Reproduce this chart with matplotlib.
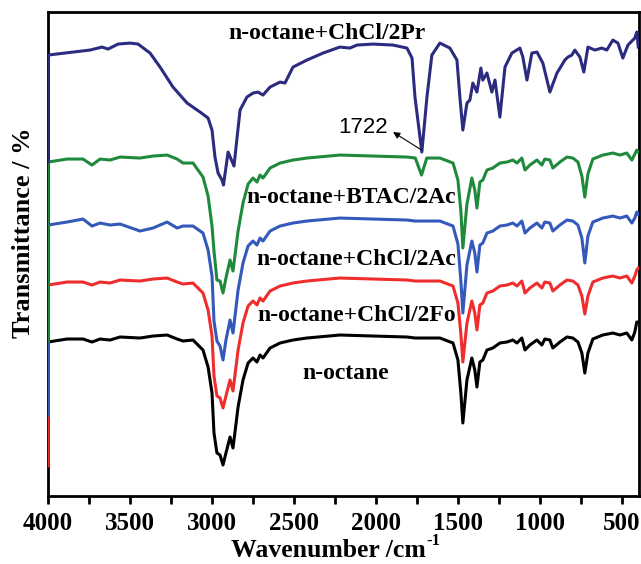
import matplotlib
matplotlib.use("Agg")
from matplotlib import pyplot as plt
from matplotlib.ticker import MultipleLocator

# FTIR spectra, arbitrary transmittance units (already stacked)
# each trace starts with a short vertical drop at 4000 cm-1 (visible on the left axis)

# top spectrum: n-octane + ChCl/2Pr
wn_pr = [4000, 4000, 3847, 3744, 3671, 3634, 3573, 3500, 3451, 3378, 3317, 3238, 3152, 3073,
         3024, 3000, 2982, 2963, 2939, 2930, 2902, 2866, 2829, 2787, 2750, 2720, 2689,
         2646, 2585, 2555, 2506, 2421, 2323, 2220, 2159, 2116, 2018, 1896, 1811, 1780,
         1762, 1720, 1689, 1659, 1610, 1549, 1506, 1488, 1470, 1445, 1427, 1409, 1384,
         1360, 1348, 1323, 1293, 1274, 1244, 1213, 1171, 1122, 1104, 1079, 1049, 1018,
         982, 939, 896, 866, 848, 829, 805, 787, 756, 732, 707, 665, 622, 592, 555, 524,
         494, 463, 421, 409, 400]
t_pr = [334, 441, 444, 446, 449, 447, 452, 453, 452, 443, 429, 409, 393, 384,
        378, 366, 339, 323, 316, 311, 344, 330, 386, 399, 403, 404, 401,
        409, 414, 413, 429, 436, 443, 449, 448, 451, 452, 451, 448, 438,
        399, 344, 399, 441, 453, 448, 436, 399, 366, 393, 396, 413, 404,
        428, 416, 423, 404, 416, 379, 429, 443, 448, 439, 416, 443, 444,
        433, 404, 423, 431, 436, 439, 441, 446, 439, 424, 449, 446, 448, 446, 456, 453,
        438, 451, 458, 464, 449]

# the four lower spectra share one wavenumber grid
wn = [4000, 4000, 3884, 3787, 3732, 3683, 3622, 3561, 3439, 3360, 3274, 3213, 3177, 3116,
      3055, 3024, 3000, 2988, 2970, 2951, 2933, 2915, 2890, 2872, 2841, 2811, 2780,
      2750, 2726, 2707, 2689, 2646, 2585, 2506, 2421, 2220, 2018, 1811, 1760, 1722,
      1690, 1610, 1530, 1500, 1482, 1470, 1445, 1415, 1397, 1384, 1366, 1348, 1323,
      1287, 1244, 1201, 1165, 1140, 1110, 1091, 1061, 1018, 988, 970, 939, 921, 878,
      835, 799, 768, 744, 726, 707, 677, 616, 555, 512, 470, 439, 421, 409, 400]
t_btac = [155, 334, 337, 337, 331, 337, 336, 339, 338, 340, 341, 337, 333, 333,
          319, 300, 270, 245, 216, 215, 203, 218, 236, 225, 265, 293, 312,
          318, 314, 321, 318, 328, 333, 336, 338, 341, 340, 339, 338, 321,
          338, 338, 333, 316, 285, 248, 292, 318, 306, 288, 314, 316, 326,
          328, 333, 334, 336, 333, 338, 326, 331, 336, 331, 337, 336, 328, 334,
          339, 338, 334, 320, 299, 322, 337, 341, 343, 341, 343, 336, 342, 346, 344]
t_ac = [81, 271, 274, 277, 270, 273, 271, 272, 265, 268, 274, 268, 270, 270,
        263, 246, 220, 175, 155, 150, 136, 156, 176, 163, 206, 233, 250,
        255, 251, 258, 255, 265, 270, 273, 275, 278, 277, 276, 275, 275,
        275, 275, 270, 252, 215, 183, 231, 255, 243, 224, 251, 253, 263,
        265, 270, 271, 273, 270, 275, 263, 268, 273, 268, 274, 273, 265, 271,
        276, 275, 271, 258, 233, 260, 274, 278, 280, 278, 280, 273, 278, 284, 282]
t_fo = [30, 211, 214, 214, 211, 214, 213, 216, 215, 217, 218, 214, 212, 213,
        203, 186, 160, 120, 100, 98, 88, 100, 116, 105, 146, 173, 190,
        195, 191, 198, 195, 205, 210, 213, 215, 218, 217, 216, 215, 215,
        215, 215, 210, 193, 162, 134, 173, 195, 183, 166, 191, 193, 203,
        205, 210, 211, 213, 210, 215, 203, 208, 213, 208, 214, 213, 205, 211,
        216, 215, 211, 200, 182, 200, 214, 218, 220, 218, 220, 213, 220, 226, 228]
t_oct = [154, 154, 157, 157, 154, 157, 156, 159, 158, 160, 161, 157, 155, 156,
         146, 129, 103, 63, 43, 41, 31, 43, 59, 48, 89, 116, 133,
         138, 134, 141, 138, 148, 153, 156, 158, 161, 160, 159, 158, 158,
         158, 158, 153, 136, 103, 73, 116, 138, 126, 109, 134, 136, 146,
         148, 153, 154, 156, 153, 158, 146, 151, 156, 151, 157, 156, 148, 154,
         159, 158, 154, 143, 123, 143, 157, 161, 163, 161, 163, 156, 164, 174, 174]

serif = "Liberation Serif"

fig = plt.figure(figsize=(6.41, 5.64), dpi=100)
ax = fig.add_axes([0.075, 0.1206, 0.922, 0.858])

lw = 2.2
ax.plot(wn, t_oct, color="black", lw=lw)
ax.plot(wn, t_fo, color="#ef2d2d", lw=lw)
ax.plot(wn, t_ac, color="#3558bb", lw=lw)
ax.plot(wn, t_btac, color="#1f8a3c", lw=lw)
ax.plot(wn_pr, t_pr, color="#2b2b7f", lw=lw)

# curve labels
lab = dict(fontfamily=serif, fontweight="bold", fontsize=17, va="center")
ax.text(2299, 463, "n-octane+ChCl/2Pr", ha="center", **lab)
ax.text(1512, 299, "n-octane+BTAC/2Ac", ha="right", **lab)
ax.text(1512, 237, "n-octane+ChCl/2Ac", ha="right", **lab)
ax.text(1512, 181, "n-octane+ChCl/2Fo", ha="right", **lab)
ax.text(2183, 123, "n-octane", ha="center", **lab)

# 1722 peak marker
ax.text(2079, 369, "1722", fontfamily="Liberation Sans", fontsize=16, ha="center", va="center")
ax.annotate("", xy=(1896, 364), xytext=(1722, 346),
            arrowprops=dict(arrowstyle="-|>", color="black", lw=0.8, mutation_scale=10,
                            shrinkA=0, shrinkB=0))

ax.set_xlim(4000, 395)
ax.set_ylim(0, 484)
ax.xaxis.set_major_locator(MultipleLocator(500))
ax.xaxis.set_minor_locator(MultipleLocator(250))
ax.tick_params(axis="x", which="both", direction="out", length=5.5, width=2, pad=6)
ax.set_yticks([])
for lbl in ax.get_xticklabels():
    lbl.set_fontfamily(serif)
    lbl.set_fontweight("bold")
    lbl.set_fontsize(18)
for s in ax.spines.values():
    s.set_linewidth(2)
    s.set_zorder(1.5)

xl = ax.set_xlabel("Wavenumber /cm", fontfamily=serif, fontweight="bold", fontsize=18.5)
ax.xaxis.set_label_coords(0.475, -0.089)
ax.annotate("-1", xy=(1.0, 0.92), xycoords=xl, fontfamily=serif, fontweight="bold",
            fontsize=12, ha="left", va="center")
ax.set_ylabel("Transmittance / %", fontfamily=serif, fontweight="bold", fontsize=19)
ax.yaxis.set_label_coords(-0.022, 0.545)

plt.savefig("out.png")
